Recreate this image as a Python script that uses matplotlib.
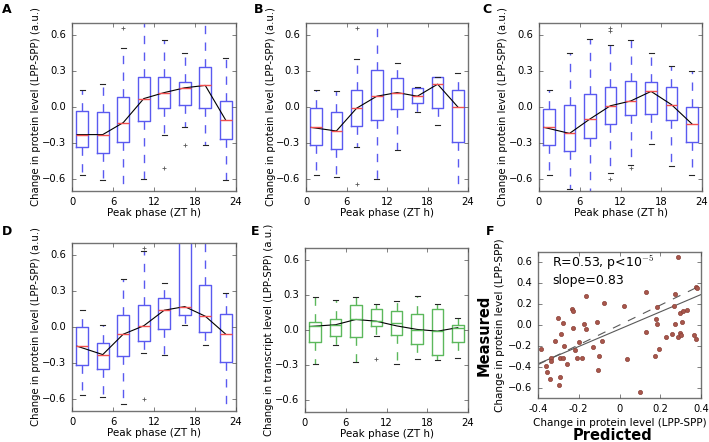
import matplotlib
matplotlib.use('Agg')
import matplotlib.pyplot as plt

plt.style.use('classic')
plt.rcParams['font.family'] = 'DejaVu Sans'
plt.rcParams['font.size'] = 7
plt.rcParams['xtick.labelsize'] = 7.2
plt.rcParams['ytick.labelsize'] = 7.2
plt.rcParams['axes.edgecolor'] = '0.45'
plt.rcParams['xtick.color'] = '0.3'
plt.rcParams['ytick.color'] = '0.3'
plt.rcParams['xtick.labelcolor'] = 'k'
plt.rcParams['ytick.labelcolor'] = 'k'
plt.rcParams['xtick.major.size'] = 3
plt.rcParams['ytick.major.size'] = 3

# box positions (peak phase bins) and the median trend line
pos = [1.5, 4.5, 7.5, 10.5, 13.5, 16.5, 19.5, 22.5]
line_x = [0.75, 4.5, 7.5, 10.5, 13.5, 16.5, 19.5, 22.5]

# panel A
a_med = [-0.23, -0.23, -0.13, 0.07, 0.12, 0.16, 0.18, -0.11]
a_q1 = [-0.33, -0.38, -0.29, -0.12, -0.01, 0.02, -0.01, -0.27]
a_q3 = [-0.03, -0.04, 0.08, 0.25, 0.25, 0.21, 0.33, 0.05]
a_lo = [-0.57, -0.61, -0.80, -0.60, -0.23, -0.17, -0.32, -0.61]
a_hi = [0.14, 0.19, 0.49, 0.80, 0.56, 0.45, 0.80, 0.41]
a_fl = [[], [], [0.66], [], [-0.51], [-0.32], [], []]

# panel B
b_med = [-0.17, -0.20, -0.01, 0.09, 0.12, 0.09, 0.19, 0.00]
b_q1 = [-0.32, -0.35, -0.16, -0.11, -0.02, 0.03, -0.01, -0.29]
b_q3 = [-0.01, -0.04, 0.14, 0.31, 0.24, 0.16, 0.25, 0.14]
b_lo = [-0.57, -0.58, -0.33, -0.60, -0.36, -0.04, -0.15, -0.80]
b_hi = [0.14, 0.13, 0.40, 0.80, 0.37, 0.17, 0.25, 0.28]
b_fl = [[], [], [0.66, -0.64], [], [], [], [], []]

# panel C
c_med = [-0.17, -0.22, -0.10, 0.01, 0.05, 0.13, 0.02, -0.14]
c_q1 = [-0.32, -0.37, -0.26, -0.14, -0.07, -0.06, -0.11, -0.29]
c_q3 = [-0.02, 0.02, 0.11, 0.17, 0.22, 0.21, 0.17, 0.00]
c_lo = [-0.57, -0.68, -0.80, -0.55, -0.48, -0.31, -0.49, -0.57]
c_hi = [0.14, 0.45, 0.57, 0.52, 0.56, 0.45, 0.34, 0.30]
c_fl = [[], [], [], [0.63, 0.66, -0.60], [-0.51], [], [], []]

# panel D
d_med = [-0.16, -0.23, -0.06, 0.01, 0.14, 0.17, 0.09, -0.06]
d_q1 = [-0.32, -0.35, -0.24, -0.12, -0.02, 0.10, -0.04, -0.29]
d_q3 = [0.00, -0.13, 0.10, 0.18, 0.24, 0.80, 0.35, 0.11]
d_lo = [-0.57, -0.58, -0.64, -0.22, -0.23, 0.02, -0.15, -0.80]
d_hi = [0.14, 0.02, 0.40, 0.63, 0.37, 0.90, 0.80, 0.28]
d_fl = [[], [], [], [0.66, -0.60], [], [], [], []]

# panel E (transcripts)
e_med = [0.03, 0.04, 0.09, 0.08, 0.06, 0.00, -0.01, 0.02]
e_q1 = [-0.10, -0.05, -0.06, 0.03, -0.04, -0.12, -0.21, -0.10]
e_q3 = [0.07, 0.09, 0.21, 0.18, 0.16, 0.14, 0.18, 0.04]
e_lo = [-0.29, -0.13, -0.27, -0.05, -0.29, -0.25, -0.26, -0.24]
e_hi = [0.28, 0.26, 0.28, 0.22, 0.25, 0.29, 0.22, 0.10]
e_fl = [[], [], [], [-0.25], [], [], [], []]
e_line = [0.03, 0.045, 0.09, 0.075, 0.035, 0.005, -0.01, 0.02]

# panel F (predicted vs measured)
f_pred = [-0.387, -0.356, -0.34, -0.336, -0.336, -0.315, -0.304, -0.299, -0.291, -0.291,
          -0.288, -0.279, -0.276, -0.274, -0.26, -0.235, -0.229, -0.226, -0.217, -0.211,
          -0.2, -0.185, -0.173, -0.162, -0.162, -0.13, -0.108, -0.107, -0.099, -0.086,
          -0.074, 0.02, 0.035, 0.103, 0.128, 0.131, 0.174, 0.178, 0.183, 0.185,
          0.196, 0.227, 0.257, 0.266, 0.271, 0.273, 0.286, 0.289, 0.296, 0.297,
          0.302, 0.307, 0.31, 0.33, 0.367, 0.375, 0.375, 0.38, -0.36]
f_meas = [-0.234, -0.452, -0.52, -0.32, -0.347, -0.154, 0.067, -0.577, -0.50, -0.32,
          -0.09, -0.318, 0.022, -0.205, -0.372, 0.157, 0.138, -0.032, -0.24, -0.32,
          -0.167, -0.318, 0.006, 0.276, -0.038, -0.215, 0.026, -0.433, -0.298, -0.151,
          0.212, 0.183, -0.33, -0.645, 0.321, -0.064, -0.30, 0.058, 0.01, 0.176,
          -0.231, -0.112, -0.083, 0.183, 0.295, 0.01, -0.112, 0.648, -0.074, 0.112,
          -0.093, 0.032, 0.135, 0.148, -0.10, -0.135, 0.366, 0.353, -0.39]
fit_x = [-0.4, 0.4]
fit_y = [-0.372, 0.292]
ident_y = [-0.38, 0.38]

W, H = 709, 442


def rect(l, r, t, b):
    return [l / W, (H - b) / H, (r - l) / W, (b - t) / H]


def box_panel(ax, med, q1, q3, lo, hi, fl, col, medcol, lx, ly, ylabel):
    stats = []
    for i in range(len(pos)):
        stats.append(dict(med=med[i], q1=q1[i], q3=q3[i], whislo=lo[i], whishi=hi[i], fliers=fl[i]))
    ax.bxp(stats, positions=pos, widths=1.7, capwidths=0.75, manage_ticks=False,
           boxprops=dict(color=col, lw=1),
           whiskerprops=dict(color=col, ls='--', lw=1),
           capprops=dict(color='0.15', lw=0.8),
           medianprops=dict(color=medcol, lw=1),
           flierprops=dict(marker='+', markeredgecolor='0.35', markersize=3.5, mew=0.6))
    ax.plot(lx, ly, color='k', lw=0.8)
    ax.set_xlim(0, 24)
    ax.set_ylim(-0.7, 0.7)
    ax.set_xticks([0, 6, 12, 18, 24])
    ax.set_yticks([-0.6, -0.3, 0.0, 0.3, 0.6])
    ax.set_xlabel('Peak phase (ZT h)', fontsize=7.5, labelpad=1)
    ax.set_ylabel(ylabel, fontsize=7.3, labelpad=0.5)


fig = plt.figure(figsize=(7.09, 4.42), dpi=100, facecolor='white')

blue = '#5a5af0'
green = '#5cb85c'
red = '#f05050'
prot = 'Change in protein level (LPP-SPP) (a.u.)'

axA = fig.add_axes(rect(72, 236, 23, 191))
box_panel(axA, a_med, a_q1, a_q3, a_lo, a_hi, a_fl, blue, red, line_x, a_med, prot)
axB = fig.add_axes(rect(306, 468, 23, 191))
box_panel(axB, b_med, b_q1, b_q3, b_lo, b_hi, b_fl, blue, red, line_x, b_med, prot)
axC = fig.add_axes(rect(539, 702, 23, 191))
box_panel(axC, c_med, c_q1, c_q3, c_lo, c_hi, c_fl, blue, red, line_x, c_med, prot)
axD = fig.add_axes(rect(72, 236, 243, 411))
box_panel(axD, d_med, d_q1, d_q3, d_lo, d_hi, d_fl, blue, red, line_x, d_med, prot)
axE = fig.add_axes(rect(305, 468, 248, 412))
box_panel(axE, e_med, e_q1, e_q3, e_lo, e_hi, e_fl, green, green, line_x, e_line,
          'Change in transcript level (LPP-SPP) (a.u.)')

axF = fig.add_axes(rect(538, 701, 252, 398))
axF.plot(fit_x, ident_y, color='0.35', ls='--', lw=0.8)
axF.plot(fit_x, fit_y, color='0.35', lw=0.8)
axF.plot(f_pred, f_meas, 'o', ms=3.0, mfc='#a8574c', mec='#8a4036', mew=0.5, ls='none')
axF.set_xlim(-0.4, 0.4)
axF.set_ylim(-0.7, 0.7)
axF.set_xticks([-0.4, -0.2, 0, 0.2, 0.4])
axF.set_xticklabels(['-0.4', '-0.2', '0', '0.2', '0.4'])
axF.set_yticks([-0.6, -0.4, -0.2, 0.0, 0.2, 0.4, 0.6])
axF.text(-0.33, 0.6, 'R=0.53, p<10$^{-5}$', fontsize=9, va='center')
axF.text(-0.33, 0.43, 'slope=0.83', fontsize=9, va='center')
axF.set_xlabel('Change in protein level (LPP-SPP)', fontsize=7.5, labelpad=3)
axF.set_ylabel('Change in protein level (LPP-SPP)', fontsize=7.5, labelpad=2)

fig.text(612 / W, 1 - 436 / H, 'Predicted', fontsize=10.5, fontweight='bold', ha='center', va='center')
fig.text(484 / W, 1 - 335 / H, 'Measured', fontsize=10.5, fontweight='bold', ha='center', va='center',
         rotation=90)

for lab, x, y in [('A', 2, 3), ('B', 254, 3), ('C', 482, 3),
                  ('D', 2, 225), ('E', 251, 225), ('F', 486, 225)]:
    fig.text(x / W, 1 - y / H, lab, fontsize=9, fontweight='bold', ha='left', va='top')

fig.savefig('out.png', dpi=100, facecolor='white')
